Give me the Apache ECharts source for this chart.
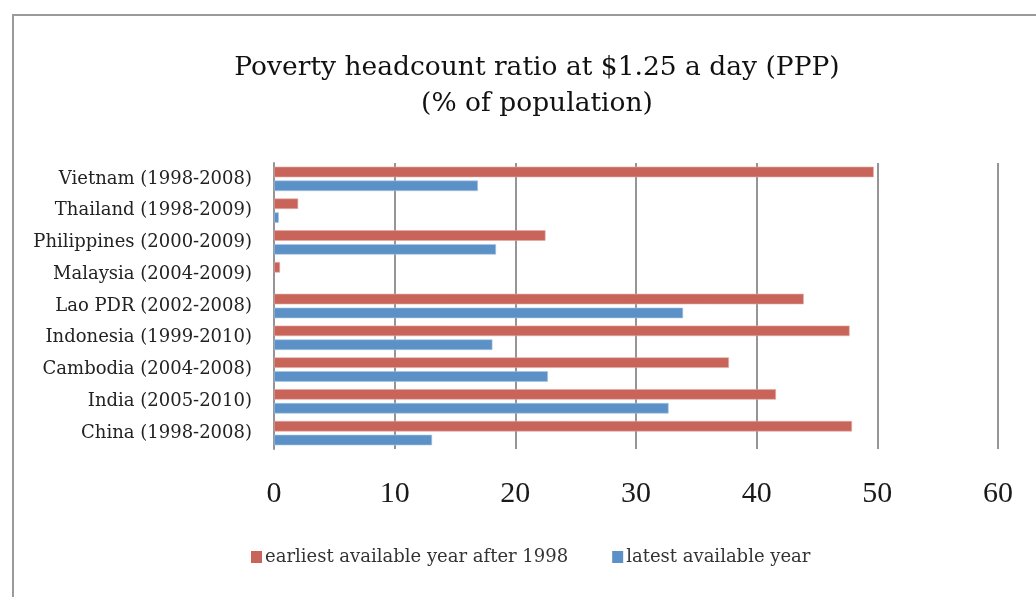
<!DOCTYPE html>
<html>
<head>
<meta charset="utf-8">
<script src="https://cdn.jsdelivr.net/npm/echarts@6/dist/echarts.min.js"></script>
<style>
  html, body { margin: 0; padding: 0; background: #fff; }
  #chart { width: 1036px; height: 597px; }
</style>
</head>
<body>
<div id="chart"></div>
<script>
// Countries with survey year ranges, listed top to bottom
const categories = [
  'Vietnam (1998-2008)',
  'Thailand (1998-2009)',
  'Philippines (2000-2009)',
  'Malaysia (2004-2009)',
  'Lao PDR (2002-2008)',
  'Indonesia (1999-2010)',
  'Cambodia (2004-2008)',
  'India (2005-2010)',
  'China (1998-2008)'
];

// Poverty headcount ratio at $1.25 a day (% of population)
const earliestValues = [49.7, 2.0, 22.5, 0.5, 43.9, 47.7, 37.7, 41.6, 47.9];
const latestValues   = [16.9, 0.4, 18.4, null, 33.9, 18.1, 22.7, 32.7, 13.1];

const seriesNames = ['earliest available year after 1998', 'latest available year'];
const xTicks = { min: 0, max: 60, interval: 10 };

const serif = '"DejaVu Serif", "Liberation Serif", serif';
const gridGray = '#959595';
const red = '#C9645A';
const blue = '#5B91C6';

const chart = echarts.init(document.getElementById('chart'), null, { renderer: 'canvas' });

chart.setOption({
  backgroundColor: '#ffffff',
  animation: false,
  title: {
    text: 'Poverty headcount ratio at $1.25 a day (PPP)\n(% of population)',
    left: 532,
    top: 45,
    textAlign: 'center',
    textStyle: {
      fontFamily: serif,
      fontSize: 26.5,
      fontWeight: 'normal',
      color: '#111111',
      lineHeight: 36
    }
  },
  graphic: [{
    type: 'rect',
    shape: { x: 13, y: 15, width: 1200, height: 800 },
    style: { fill: null, stroke: '#9a9a9a', lineWidth: 2 },
    silent: true,
    z: -1
  }],
  legend: {
    left: 246,
    top: 543,
    itemWidth: 11,
    itemHeight: 12,
    itemGap: 44,
    icon: 'rect',
    itemStyle: { borderWidth: 0 },
    textStyle: {
      fontFamily: serif,
      fontSize: 18,
      color: '#333333',
      padding: [0, 0, 0, -2]
    },
    data: seriesNames
  },
  grid: {
    left: 274,
    right: 38,
    top: 163,
    bottom: 148,
    containLabel: false
  },
  xAxis: {
    type: 'value',
    min: xTicks.min,
    max: xTicks.max,
    interval: xTicks.interval,
    axisLine: { show: false },
    axisTick: { show: false },
    axisLabel: {
      margin: 30,
      fontFamily: '"Liberation Serif", serif',
      fontSize: 30,
      color: '#1a1a1a'
    },
    splitLine: { show: true, lineStyle: { color: gridGray, width: 2 } }
  },
  yAxis: {
    type: 'category',
    inverse: true,
    data: categories,
    axisLine: { show: true, lineStyle: { color: gridGray, width: 2 } },
    axisTick: { show: false },
    axisLabel: {
      margin: 22,
      fontFamily: serif,
      fontSize: 18,
      lineHeight: 18,
      padding: [6, 0, 0, 0],
      color: '#222222'
    }
  },
  series: [
    {
      name: seriesNames[0],
      type: 'bar',
      data: earliestValues,
      barWidth: 10.5,
      barGap: '32%',
      itemStyle: { color: red, borderColor: '#E3A9A3', borderWidth: 0.6 }
    },
    {
      name: seriesNames[1],
      type: 'bar',
      data: latestValues,
      barWidth: 10.5,
      barGap: '32%',
      itemStyle: { color: blue, borderColor: '#A9C6E3', borderWidth: 0.6 }
    }
  ]
});
</script>
</body>
</html>
